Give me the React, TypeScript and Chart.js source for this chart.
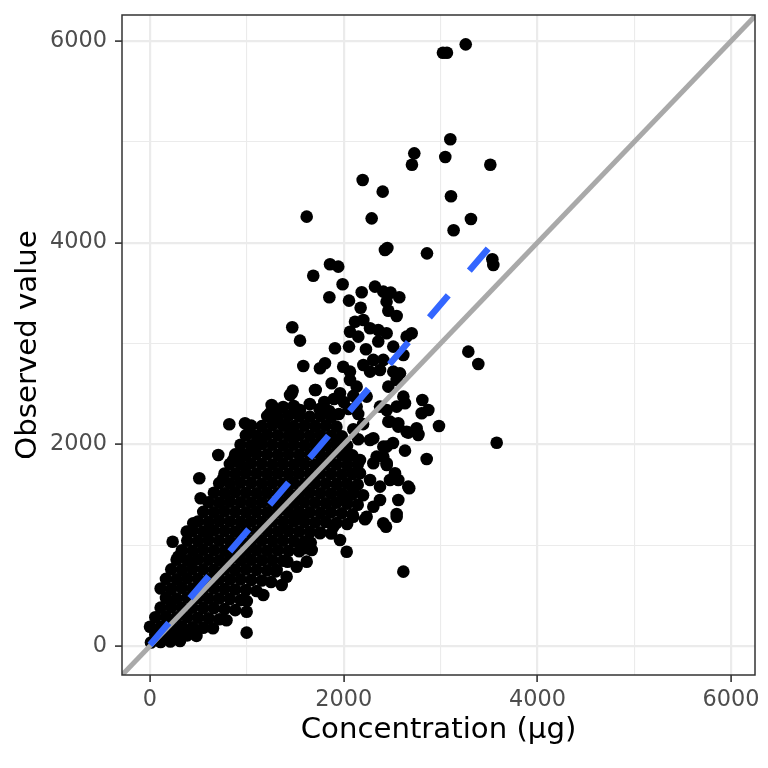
import { useEffect, useRef } from 'react';
import { Chart, registerables } from 'chart.js';

Chart.register(...registerables);

// dense core of the cloud
const coreObs: [number, number][] = [
  [10, 35], [110, 40], [210, 45], [310, 50],
  [55, 110], [165, 115], [275, 110], [385, 105], [480, 100],
  [0, 190], [110, 190], [220, 195], [330, 190], [440, 185], [550, 180], [650, 175],
  [55, 285], [165, 290], [275, 285], [385, 285], [495, 280], [605, 275], [715, 265], [790, 255],
  [110, 380], [220, 385], [330, 380], [440, 380], [550, 375], [660, 375], [770, 365], [880, 355],
  [165, 475], [275, 470], [385, 480], [495, 475], [605, 470], [715, 470], [825, 465], [935, 455], [1000, 445],
  [110, 570], [220, 565], [330, 575], [440, 570], [550, 565], [660, 570], [770, 565], [880, 560], [990, 555], [1100, 545],
  [165, 665], [275, 660], [385, 670], [495, 665], [605, 660], [715, 665], [825, 660], [935, 660], [1045, 655], [1155, 650], [1250, 635],
  [220, 760], [330, 755], [440, 765], [550, 760], [660, 755], [770, 760], [880, 755], [990, 760], [1100, 755], [1210, 750], [1300, 740],
  [275, 855], [385, 850], [495, 860], [605, 855], [715, 850], [825, 855], [935, 850], [1045, 855], [1155, 850], [1265, 850], [1375, 845], [1420, 835],
  [330, 950], [440, 945], [550, 955], [660, 950], [770, 945], [880, 950], [990, 945], [1100, 950], [1210, 945], [1320, 950], [1430, 945], [1540, 940],
  [385, 1045], [495, 1040], [605, 1050], [715, 1045], [825, 1040], [935, 1045], [1045, 1040], [1155, 1045], [1265, 1040], [1375, 1045], [1485, 1040], [1595, 1035], [1660, 1025],
  [440, 1140], [550, 1135], [660, 1145], [770, 1140], [880, 1135], [990, 1140], [1100, 1135], [1210, 1140], [1320, 1135], [1430, 1140], [1540, 1135], [1650, 1130], [1760, 1125], [1870, 1115],
  [495, 1235], [605, 1230], [715, 1240], [825, 1235], [935, 1230], [1045, 1235], [1155, 1230], [1265, 1235], [1375, 1230], [1485, 1235], [1595, 1230], [1705, 1225], [1815, 1230], [1925, 1220], [2035, 1210],
  [550, 1330], [660, 1325], [770, 1335], [880, 1330], [990, 1325], [1100, 1330], [1210, 1325], [1320, 1330], [1430, 1325], [1540, 1330], [1650, 1325], [1760, 1320], [1870, 1325], [1980, 1315], [2090, 1305],
  [605, 1425], [715, 1420], [825, 1430], [935, 1425], [1045, 1420], [1155, 1425], [1265, 1420], [1375, 1425], [1485, 1420], [1595, 1425], [1705, 1420], [1815, 1415], [1925, 1420], [2035, 1410], [2145, 1400],
  [660, 1520], [770, 1515], [880, 1525], [990, 1520], [1100, 1515], [1210, 1520], [1320, 1515], [1430, 1520], [1540, 1515], [1650, 1520], [1760, 1515], [1870, 1510], [1980, 1515], [2090, 1505], [2200, 1495],
  [715, 1615], [825, 1610], [935, 1620], [1045, 1615], [1155, 1610], [1265, 1615], [1375, 1610], [1485, 1615], [1595, 1610], [1705, 1615], [1815, 1610], [1925, 1605], [2035, 1610], [2145, 1600],
  [770, 1710], [880, 1705], [990, 1715], [1100, 1710], [1210, 1705], [1320, 1710], [1430, 1705], [1540, 1710], [1650, 1705], [1760, 1710], [1870, 1705], [1980, 1700], [2090, 1705],
  [825, 1805], [935, 1800], [1045, 1810], [1155, 1805], [1265, 1800], [1375, 1805], [1485, 1800], [1595, 1805], [1705, 1800], [1815, 1805], [1925, 1800], [2035, 1795], [2145, 1800],
  [880, 1900], [990, 1895], [1100, 1905], [1210, 1900], [1320, 1895], [1430, 1900], [1540, 1895], [1650, 1900], [1760, 1895], [1870, 1900], [1980, 1895], [2090, 1890],
  [935, 1995], [1045, 1990], [1155, 2000], [1265, 1995], [1375, 1990], [1485, 1995], [1595, 1990], [1705, 1995], [1815, 1990], [1925, 1995], [2035, 1985],
  [990, 2090], [1100, 2085], [1210, 2095], [1320, 2090], [1430, 2085], [1540, 2090], [1650, 2085], [1760, 2090], [1870, 2085], [1980, 2080],
  [1045, 2185], [1155, 2180], [1265, 2190], [1375, 2185], [1485, 2180], [1595, 2185], [1705, 2180], [1815, 2185], [1925, 2175],
  [1210, 2280], [1320, 2275], [1430, 2285], [1540, 2280], [1650, 2275], [1760, 2280], [1870, 2270],
  [1265, 2375], [1375, 2370], [1485, 2380],
];

// scattered points around and above the core
const outerObs: [number, number][] = [
  [3025, 5884], [3066, 5884], [3260, 5967], [3101, 5025], [2729, 4886], [2705, 4773], [3049, 4850], [3514, 4773],
  [2196, 4622], [2403, 4506], [3108, 4460], [1618, 4258], [2289, 4241], [3314, 4235], [3135, 4123],
  [2426, 3927], [2451, 3947], [2860, 3894], [3535, 3835], [3545, 3779],
  [1859, 3786], [1944, 3762], [1686, 3672], [1989, 3587], [1852, 3458], [2055, 3425], [2186, 3508], [2175, 3355],
  [2323, 3564], [2409, 3514], [2485, 3504], [2574, 3458], [2443, 3415], [2461, 3325], [2547, 3273],
  [2117, 3216], [2203, 3233], [2272, 3151], [2065, 3117], [2357, 3134], [2443, 3101], [2151, 3068],
  [2702, 3101], [2650, 3068], [1469, 3161], [1549, 3028], [1910, 2953], [2055, 2969], [2230, 2943], [2357, 3019], [2512, 2969], [2616, 2886],
  [1583, 2777], [1755, 2754], [1807, 2804], [1995, 2770], [2065, 2721], [2203, 2787], [2306, 2837], [2409, 2837], [2272, 2721], [2375, 2737], [2512, 2721],
  [3287, 2919], [3390, 2797],
  [1473, 2532], [1446, 2489], [1711, 2539], [1876, 2605], [1962, 2506], [2065, 2638], [2134, 2572],
  [2461, 2572], [2547, 2638], [2581, 2704], [2616, 2473], [2547, 2374], [2633, 2407], [2812, 2440], [2874, 2341], [2805, 2308], [2984, 2182], [3580, 2016],
  [2461, 2225], [2564, 2209], [2650, 2125], [2753, 2159], [2770, 2093], [2633, 1937], [2857, 1855], [2444, 1795], [2530, 1713], [2564, 1646], [2667, 1580],
  [2616, 737], [2677, 1564], [2564, 1448], [2547, 1309], [2437, 1183], [2220, 1257],
  [2770, 2102], [2667, 2116], [2564, 2175], [2478, 2225], [2306, 2060], [2444, 1977], [2409, 1878], [2306, 1812],
  [819, 2199], [981, 2209], [1025, 2125], [705, 1894], [509, 1663], [523, 1465], [447, 1217], [860, 1845], [947, 1894], [1050, 1944], [1153, 2010], [757, 1663],
  [1256, 2390], [1239, 2308], [1301, 2341], [1463, 2506], [1497, 2308], [1549, 2341], [1704, 2539], [1394, 2192], [1446, 2093],
  [379, 1134], [234, 1034], [292, 886], [998, 132], [998, 340], [1360, 605], [1618, 969], [1670, 952], [1618, 836], [1531, 1299], [1583, 1299],
  [1618, 985], [1755, 1118], [1893, 1183], [2099, 1282], [2306, 1381], [2409, 1217], [2444, 1812], [2509, 2013], [2478, 1646], [2547, 1282],
  [2099, 1547], [2031, 1448], [2168, 1845], [1962, 1051], [2031, 935], [2237, 1282], [2375, 1448],
  [1308, 754], [1170, 506], [1583, 1002], [1515, 786], [1411, 687],
  [2134, 2374], [2237, 2473], [2375, 2374], [2444, 2341], [2272, 2043], [2409, 1977], [2340, 1878], [2272, 1646], [2375, 1580], [2168, 1713],
  [1800, 2420], [1900, 2450], [2000, 2420], [2100, 2480], [1750, 2350], [1650, 2400], [1850, 2330], [1950, 2300], [2050, 2350],
  [2150, 2300], [2200, 2200], [2100, 2150], [2150, 2050], [2050, 1900],
];

// y = x reference line and the fitted (dashed) line
const identityX = [-300, 6300];
const fitX = [0, 3580];
const fitY = [10, 4040];

const gridValues = [0, 1000, 2000, 3000, 4000, 5000, 6000];
const tickLabels = ['0', '', '2000', '', '4000', '', '6000'];

const FONT = '"DejaVu Sans", sans-serif';

const panelBorder = {
  id: 'panelBorder',
  afterDraw(chart: any) {
    const { ctx, chartArea: a } = chart;
    ctx.save();
    ctx.strokeStyle = '#333333';
    ctx.lineWidth = 1.5;
    ctx.strokeRect(a.left, a.top, a.right - a.left, a.bottom - a.top);
    ctx.restore();
  },
};

function axisOptions(min: number, max: number, title: string, isX: boolean) {
  return {
    type: 'linear' as const,
    min,
    max,
    afterBuildTicks: (s: any) => {
      s.ticks = gridValues.map(v => ({ value: v }));
    },
    afterFit: (s: any) => {
      // keep the panel where the reference has it
      s.paddingTop = 0;
      s.paddingBottom = 0;
      s.paddingLeft = 0;
      s.paddingRight = 0;
      if (isX) s.height = 93;
      else s.width = 122;
    },
    ticks: {
      autoSkip: false,
      maxRotation: 0,
      callback: (_v: any, i: number) => tickLabels[i],
      font: { family: FONT, size: 22.4 },
      color: '#4D4D4D',
      padding: isX ? 5 : 8,
    },
    grid: {
      color: '#EBEBEB',
      lineWidth: (c: any) => (c.tick && c.tick.value % 2000 === 0 ? 2.2 : 1.1),
      drawTicks: true,
      tickLength: 7,
      tickWidth: 1.6,
      tickColor: (c: any) => (c.tick && c.tick.value % 2000 === 0 ? '#333333' : 'rgba(0,0,0,0)'),
    },
    border: { display: false },
    title: {
      display: true,
      text: title,
      color: '#000000',
      font: { family: FONT, size: 29.2 },
      padding: isX ? { top: 0, bottom: 20 } : { top: 11, bottom: 0 },
    },
  };
}

export default function App() {
  const canvasRef = useRef<HTMLCanvasElement>(null);
  const chartRef = useRef<Chart | null>(null);

  useEffect(() => {
    document.body.style.margin = '0';
    if (!canvasRef.current) return;
    if (chartRef.current) chartRef.current.destroy();

    const points = [...coreObs, ...outerObs].map(([x, y]) => ({ x, y }));

    chartRef.current = new Chart(canvasRef.current, {
      type: 'scatter',
      data: {
        datasets: [
          {
            label: 'fit',
            data: fitX.map((x, i) => ({ x, y: fitY[i] })),
            showLine: true,
            borderColor: '#3366FF',
            borderWidth: 6.5,
            borderDash: [29, 32.5],
            pointRadius: 0,
            order: 1,
          },
          {
            label: 'identity',
            data: identityX.map(x => ({ x, y: x })),
            showLine: true,
            borderColor: '#A9A9A9',
            borderWidth: 5,
            pointRadius: 0,
            order: 2,
          },
          {
            label: 'obs',
            data: points,
            backgroundColor: '#000000',
            borderWidth: 0,
            pointRadius: 6.3,
            order: 3,
          },
        ],
      },
      options: {
        responsive: false,
        animation: false,
        devicePixelRatio: 1,
        layout: { padding: { left: 0, right: 13, top: 15, bottom: 0 } },
        plugins: {
          legend: { display: false },
          tooltip: { enabled: false },
        },
        scales: {
          x: axisOptions(-289, 6247, 'Concentration (μg)', true),
          y: axisOptions(-288, 6258, 'Observed value', false),
        },
      },
      plugins: [panelBorder],
    });

    return () => {
      if (chartRef.current) {
        chartRef.current.destroy();
        chartRef.current = null;
      }
    };
  }, []);

  return (
    <div style={{ width: 768, height: 768, background: '#ffffff' }}>
      <canvas ref={canvasRef} width={768} height={768} />
    </div>
  );
}
